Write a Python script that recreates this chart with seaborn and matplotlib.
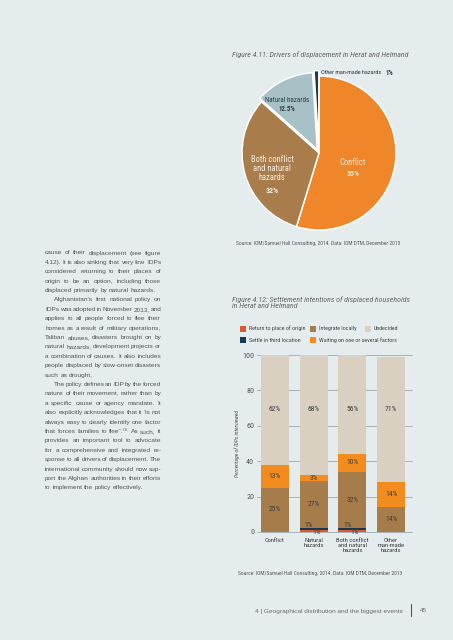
import matplotlib
matplotlib.use('Agg')
import matplotlib.pyplot as plt
import seaborn as sns
from matplotlib import font_manager
from matplotlib.font_manager import FontProperties
from matplotlib.patches import Rectangle

# figure 4.11 data
pie_labels = ['Conflict', 'Both conflict and natural hazards', 'Natural hazards', 'Other man-made hazards']
pie_values = [55, 32, 12.5, 1]
pie_colors = ['#f0862a', '#a97d4b', '#a8c1c7', '#163a55']

# figure 4.12 data
categories = ['Conflict', 'Natural\nhazards', 'Both conflict\nand natural\nhazards', 'Other\nman-made\nhazards']
return_origin = [0, 1, 1, 0]
settle_third = [0, 1, 1, 0]
integrate_local = [25, 27, 32, 14]
waiting = [13, 3, 10, 14]
undecided = [62, 68, 56, 71]
series_names = ['Return to place of origin', 'Settle in third location', 'Integrate locally',
                'Waiting on one or several factors', 'Undecided']
series_colors = ['#e0582b', '#163a55', '#a77c4b', '#f28c1e', '#d9d0c2']

body_lines = [
    ("cause of their displacement (see figure", False, True),
    ("4.12). It is also striking that very few IDPs", False, True),
    ("considered returning to their places of", False, True),
    ("origin to be an option, including those", False, True),
    ("displaced primarily by natural hazards.", False, False),
    ("Afghanistan's first national policy on", True, True),
    ("IDPs was adopted in November 2013, and", False, True),
    ("applies to all people forced to flee their", False, True),
    ("homes as a result of military operations,", False, True),
    ("Taliban abuses, disasters brought on by", False, True),
    ("natural hazards, development projects or", False, True),
    ("a combination of causes. It also includes", False, True),
    ("people displaced by slow-onset disasters", False, True),
    ("such as drought.", False, False),
    ("The policy defines an IDP by the forced", True, True),
    ("nature of their movement, rather than by", False, True),
    ("a specific cause or agency mandate. It", False, True),
    ("also explicitly acknowledges that it \u201cis not", False, True),
    ("always easy to clearly identify one factor", False, True),
    ("that forces families to flee\u201d.\u2077\u2076 As such, it", False, True),
    ("provides an important tool to advocate", False, True),
    ("for a comprehensive and integrated re-", False, True),
    ("sponse to all drivers of displacement. The", False, True),
    ("international community should now sup-", False, True),
    ("port the Afghan authorities in their efforts", False, True),
    ("to implement the policy effectively.", False, False),
]

W, H = 453, 640
BG = '#e5ecee'


def pick_font(cands):
    for fam in cands:
        try:
            font_manager.findfont(FontProperties(family=fam), fallback_to_default=False)
            return fam
        except ValueError:
            pass
    return 'DejaVu Sans'


NARROW = pick_font(['Liberation Sans Narrow', 'Roboto Condensed', 'Open Sans Condensed', 'Liberation Sans'])
BODY = pick_font(['Liberation Sans', 'Roboto'])

sns.set_theme(style='white')
plt.rcParams['font.family'] = [NARROW, 'DejaVu Sans']


def fx(px):
    return px / W


def fy(py):
    return 1 - py / H


fig = plt.figure(figsize=(W / 100, H / 100), dpi=100, facecolor=BG)
renderer = fig.canvas.get_renderer()


def text_w(s, prop):
    w, h, d = renderer.get_text_width_height_descent(s, prop, ismath=False)
    return w


def fit(s, px, family=NARROW, **kw):
    # font size (pt) that makes s about px pixels wide
    size = 10
    for _ in range(3):
        size *= px / text_w(s, FontProperties(family=[family, 'DejaVu Sans'], size=size, **kw))
    return size


# left text column, justified word by word
plain = [l for l, ind, j in body_lines if j and not ind]
body_size = 4.5
for _ in range(3):
    p = FontProperties(family=[BODY, 'DejaVu Sans'], size=body_size)
    nat = sorted(text_w(l, p) for l in plain)
    body_size *= 115 / nat[len(nat) // 2]
body_prop = FontProperties(family=[BODY, 'DejaVu Sans'], size=body_size)
space_w = text_w('a a', body_prop) - text_w('aa', body_prop)
col_left, col_right, indent = 45, 161, 9
y = 253
for line, ind, justify in body_lines:
    words = line.split()
    x0 = col_left + (indent if ind else 0)
    widths = [text_w(w, body_prop) for w in words]
    gap = space_w
    if justify and len(words) > 1:
        gap = max((col_right - x0 - sum(widths)) / (len(words) - 1), 0.5 * space_w)
    x = x0
    for w, ww in zip(words, widths):
        fig.text(fx(x), fy(y), w, fontproperties=body_prop, color='#505355', va='center', ha='left')
        x += ww + gap
    y += 9.4

# figure 4.11 pie
t411 = 'Figure 4.11: Drivers of displacement in Herat and Helmand'
fig.text(fx(232), fy(55), t411, fontsize=fit(t411, 175, style='italic'), style='italic',
         color='#666666', va='center')
r = 77
pax = fig.add_axes([fx(319 - 1.1 * r), fy(153 + 1.1 * r), 2.2 * r / W, 2.2 * r / H])
pax.pie(pie_values, colors=pie_colors, startangle=90, counterclock=False,
        explode=[0, 0, 0.05, 0.07], wedgeprops=dict(edgecolor='white', linewidth=1.1))
pax.set_xlim(-1.1, 1.1)
pax.set_ylim(-1.1, 1.1)
pax.axis('off')
big = fit('Both conflict', 43)
pct = fit('55%', 13, weight='bold')
pax.text(0.44, -0.12, 'Conflict', ha='center', va='center', fontsize=big, color='#fde8d2')
pax.text(0.44, -0.27, '55%', ha='center', va='center', fontsize=pct, fontweight='bold', color='#fde8d2')
pax.text(-0.61, -0.2, 'Both conflict\nand natural\nhazards', ha='center', va='center',
         fontsize=big, color='#f6ecdf', linespacing=1.0)
pax.text(-0.61, -0.49, '32%', ha='center', va='center', fontsize=pct, fontweight='bold', color='#f6ecdf')
small = fit('Natural hazards', 43)
pax.text(-0.42, 0.68, 'Natural hazards', ha='center', va='center', fontsize=small, color='#2e3a44')
pax.text(-0.42, 0.57, '12.5%', ha='center', va='center', fontsize=pct * 0.85, fontweight='bold',
         color='#2e3a44')
pax.text(0.03, 1.04, 'Other man-made hazards', ha='left', va='center',
         fontsize=fit('Other man-made hazards', 60), color='#2e3a44')
pax.text(0.86, 1.035, '1%', ha='left', va='center', fontsize=pct * 0.85, fontweight='bold', color='#2e3a44')

src = 'Source: IOM/Samuel Hall Consulting, 2014. Data: IOM DTM, December 2013'
src_size = fit(src, 164)
fig.text(fx(236), fy(243), src, fontsize=src_size, color='#555555', va='center')

# figure 4.12 stacked bars
t412 = 'Figure 4.12: Settlement intentions of displaced households'
fig.text(fx(232), fy(302.5), t412 + '\nin Herat and Helmand', fontsize=fit(t412, 178, style='italic'),
         style='italic', color='#666666', va='center', linespacing=1.1)

leg_size = fit(series_names[3], 77)
for i, (name, col) in enumerate(zip(series_names, series_colors)):
    lx = [240, 240, 310, 310, 365][i]
    ly = [328.5, 340, 328.5, 340, 328.5][i]
    fig.patches.append(Rectangle((fx(lx), fy(ly + 3)), 6 / W, 6 / H, transform=fig.transFigure,
                                 facecolor=col, edgecolor='none'))
    fig.text(fx(lx + 9), fy(ly), name, fontsize=leg_size, color='#444444', va='center')

ax = fig.add_axes([fx(257), fy(532), 155 / W, 177 / H])
ax.set_facecolor(BG)
layers = [return_origin, settle_third, integrate_local, waiting, undecided]
bottom = [0, 0, 0, 0]
bottoms = []
for vals, col in zip(layers, series_colors):
    bottoms.append(list(bottom))
    sns.barplot(x=categories, y=vals, bottom=bottom, color=col, width=0.72, saturation=1,
                errorbar=None, linewidth=0, ax=ax)
    bottom = [b + v for b, v in zip(bottom, vals)]

lab_size = fit('62%', 12)
label_kw = dict(ha='center', va='center', fontsize=lab_size, color='#3d3d3d')
for i in range(len(categories)):
    ax.text(i, bottoms[2][i] + integrate_local[i] / 2, f'{integrate_local[i]}%', **label_kw)
    ax.text(i, bottoms[3][i] + waiting[i] / 2, f'{waiting[i]}%', **label_kw)
    ax.text(i, 69, f'{undecided[i]}%', **label_kw)
    if settle_third[i]:
        ax.text(i - 0.12, 3.4, f'{settle_third[i]}%', **label_kw)
    if return_origin[i]:
        ax.text(i + 0.07, -0.4, f'{return_origin[i]}%', **label_kw)

ax.set_xlim(-0.465, 3.54)
ax.set_ylim(0, 100)
ax.set_yticks([0, 20, 40, 60, 80, 100])
ax.yaxis.grid(True, color='#a9b3b6', linewidth=0.7)
for gl in ax.get_ygridlines():
    gl.set_clip_on(False)
ax.set_axisbelow(True)
sns.despine(ax=ax, left=True, bottom=True)
ax.tick_params(axis='y', length=0, pad=2, labelsize=fit('100', 12), labelcolor='#555555')
ax.tick_params(axis='x', length=0, pad=4.5, labelsize=fit('Both conflict', 32), labelcolor='#3d3d3d')
for t in ax.get_xticklabels():
    t.set_linespacing(1.0)
ylab = 'Percentage of IDPs interviewed'
ax.set_ylabel(ylab, fontsize=fit(ylab, 67, style='italic'), style='italic', color='#555555')
ax.yaxis.set_label_coords(-17 / 155, 0.5)

fig.text(fx(238), fy(573), src, fontsize=src_size, color='#555555', va='center')

# footer
foot = '4 | Geographical distribution and the biggest events'
fig.text(fx(255), fy(611), foot, fontsize=fit(foot, 147, family=BODY), family=[BODY, 'DejaVu Sans'],
         color='#6a6a6a', va='center', ha='left')
fig.lines.append(plt.Line2D([fx(411), fx(411)], [fy(604), fy(616)], transform=fig.transFigure,
                            color='#555555', linewidth=0.8))
fig.text(fx(420), fy(611), '45', fontsize=fit('45', 7, family=BODY), family=[BODY, 'DejaVu Sans'],
         color='#6a6a6a', va='center', ha='left')

fig.savefig('out.png', dpi=100, facecolor=BG)
